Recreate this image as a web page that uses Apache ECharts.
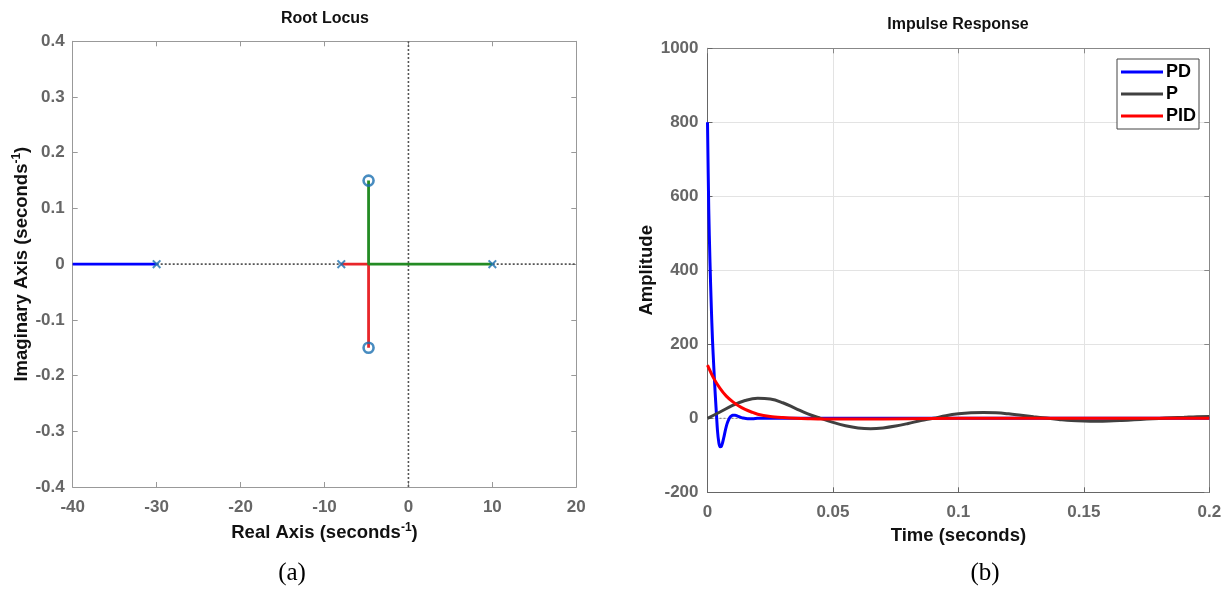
<!DOCTYPE html>
<html>
<head>
<meta charset="utf-8">
<script src="https://cdn.jsdelivr.net/npm/echarts@6/dist/echarts.min.js"></script>
<style>
html,body{margin:0;padding:0;background:#fff;}
#c{width:1231px;height:589px;}
</style>
</head>
<body>
<div id="c"></div>
<script>
// ---- Root locus data ----
const rlPoles = [[-30, 0], [-8, 0], [10, 0]];
const rlZeros = [[-4.75, 0.15], [-4.75, -0.15]];
const rlBranchBlue = [[-40, 0], [-30, 0]];
const rlBranchRed = [[-8, 0], [-4.75, 0], [-4.75, -0.15]];
const rlBranchGreen = [[10, 0], [-4.75, 0], [-4.75, 0.15]];
const rlRealAxisGuide = [[-40, 0], [20, 0]];
const rlImagAxisGuide = [[0, -0.4], [0, 0.4]];

// ---- Impulse response data ----
const tPD = [0, 0.0005, 0.001, 0.0015, 0.002, 0.0025, 0.003, 0.0035, 0.004, 0.0045, 0.005, 0.0055, 0.006, 0.0065, 0.007, 0.0075, 0.008, 0.0085, 0.009, 0.0095, 0.010, 0.011, 0.012, 0.013, 0.014, 0.016, 0.018, 0.020, 0.025, 0.03, 0.05, 0.1, 0.15, 0.2];
const aPD = [800, 565, 420, 305, 210, 140, 75, 18, -35, -65, -77, -76, -66, -52, -36, -22, -11, -3, 3, 6, 8, 8, 6, 3, 1, -1, -1, 0, 0, 0, 0, 0, 0, 0];

const tP = [0, 0.005, 0.01, 0.015, 0.02, 0.025, 0.03, 0.035, 0.04, 0.045, 0.05, 0.055, 0.06, 0.065, 0.07, 0.075, 0.08, 0.085, 0.09, 0.095, 0.1, 0.105, 0.11, 0.115, 0.12, 0.125, 0.13, 0.135, 0.14, 0.145, 0.15, 0.155, 0.16, 0.165, 0.17, 0.175, 0.18, 0.185, 0.19, 0.195, 0.2];
const aP = [0, 17, 35, 48, 54, 52, 42, 27, 12, 0, -11, -20, -26, -28, -26, -21, -14, -6, 0, 7, 12, 15, 16, 15, 12, 8, 4, 0.5, -3, -6, -7.5, -8, -7.5, -6, -4, -2, -0.5, 1.5, 3, 4.5, 5];

const tPID = [0, 0.0025, 0.005, 0.0075, 0.01, 0.0125, 0.015, 0.0175, 0.02, 0.025, 0.03, 0.035, 0.04, 0.05, 0.06, 0.08, 0.1, 0.15, 0.2];
const aPID = [144, 108, 81, 60, 45, 33, 24, 17, 11, 5, 2, 0, -1, -2, -2, -1, 0, 0, 0];

const zeroLine = [[0, 0], [0.2, 0]];

// ---- tick settings ----
const rlXTicks = {min: -40, max: 20, interval: 10};
const rlYTicks = {min: -0.4, max: 0.4, interval: 0.1};
const irXTicks = {min: 0, max: 0.2, interval: 0.05};
const irYTicks = {min: -200, max: 1000, interval: 200};

const zip = (a, b) => a.map((v, i) => [v, b[i]]);
const fmt = v => String(parseFloat(Number(v).toFixed(3)));

const FF = 'Liberation Sans, Arial, sans-serif';
const tickFont = {color: '#666', fontWeight: 'bold', fontSize: 17, fontFamily: FF};
const nameRich = {
  t: {color: '#111', fontWeight: 'bold', fontSize: 18.5, fontFamily: FF, lineHeight: 22},
  s: {color: '#111', fontWeight: 'bold', fontSize: 12, fontFamily: FF, verticalAlign: 'top', lineHeight: 22}
};
const plainName = {color: '#111', fontWeight: 'bold', fontSize: 18.5, fontFamily: FF};

const xMark = 'path://M0,1.6 L1.6,0 L5,3.4 L8.4,0 L10,1.6 L6.6,5 L10,8.4 L8.4,10 L5,6.6 L1.6,10 L0,8.4 L3.4,5 Z';

function boxAxis(gridIndex, pos, ticks, color) {
  return Object.assign({
    type: 'value', gridIndex: gridIndex, position: pos,
    axisLine: {show: true, onZero: false, lineStyle: {color: color, width: 1}},
    axisTick: {show: true, inside: true, length: 5, lineStyle: {color: color}},
    axisLabel: {show: false},
    splitLine: {show: false}
  }, ticks);
}

const chart = echarts.init(document.getElementById('c'), null, {renderer: 'canvas'});
const option = {
  animation: false,
  backgroundColor: '#fff',
  title: [
    {text: 'Root Locus', left: 325, top: 11, textAlign: 'center', padding: 0,
     textStyle: {fontSize: 16, fontWeight: 'bold', color: '#111', fontFamily: FF}},
    {text: 'Impulse Response', left: 958, top: 17, textAlign: 'center', padding: 0,
     textStyle: {fontSize: 16, fontWeight: 'bold', color: '#111', fontFamily: FF}}
  ],
  grid: [
    {left: 72.7, top: 41.3, width: 503.6, height: 445.7, containLabel: false},
    {left: 707.5, top: 48.3, width: 501.8, height: 444, containLabel: false}
  ],
  legend: {
    data: ['PD', 'P', 'PID'],
    orient: 'vertical',
    left: 1117, top: 59,
    padding: [4, 3, 4, 4],
    itemGap: 4,
    itemWidth: 42, itemHeight: 3,
    icon: 'rect',
    backgroundColor: '#fff',
    borderColor: '#444', borderWidth: 1, borderRadius: 0,
    textStyle: {fontSize: 18, fontWeight: 'bold', color: '#000', fontFamily: FF, padding: [0, 0, 0, -2]}
  },
  xAxis: [
    Object.assign({
      type: 'value', gridIndex: 0, position: 'bottom',
      name: '{t|Real Axis (seconds}{s|-1}{t|)}', nameLocation: 'middle', nameGap: 35,
      nameTextStyle: {rich: nameRich},
      axisLine: {show: true, onZero: false, lineStyle: {color: '#999'}},
      axisTick: {show: true, inside: true, length: 5, lineStyle: {color: '#999'}},
      axisLabel: Object.assign({margin: 12, formatter: fmt}, tickFont),
      splitLine: {show: false}
    }, rlXTicks),
    boxAxis(0, 'top', rlXTicks, '#999'),
    Object.assign({
      type: 'value', gridIndex: 1, position: 'bottom',
      name: 'Time (seconds)', nameLocation: 'middle', nameGap: 34,
      nameTextStyle: plainName,
      axisLine: {show: true, onZero: false, lineStyle: {color: '#666'}},
      axisTick: {show: true, inside: true, length: 5, lineStyle: {color: '#666'}},
      axisLabel: Object.assign({margin: 12, formatter: fmt}, tickFont),
      splitLine: {show: true, lineStyle: {color: '#e3e3e3', width: 1}}
    }, irXTicks),
    boxAxis(1, 'top', irXTicks, '#888')
  ],
  yAxis: [
    Object.assign({
      type: 'value', gridIndex: 0, position: 'left',
      name: '{t|Imaginary Axis (seconds}{s|-1}{t|)}', nameLocation: 'middle', nameGap: 35, nameRotate: 90,
      nameTextStyle: {rich: nameRich},
      axisLine: {show: true, onZero: false, lineStyle: {color: '#999'}},
      axisTick: {show: true, inside: true, length: 5, lineStyle: {color: '#999'}},
      axisLabel: Object.assign({margin: 8, formatter: fmt}, tickFont),
      splitLine: {show: false}
    }, rlYTicks),
    boxAxis(0, 'right', rlYTicks, '#999'),
    Object.assign({
      type: 'value', gridIndex: 1, position: 'left',
      name: 'Amplitude', nameLocation: 'middle', nameGap: 50, nameRotate: 90,
      nameTextStyle: plainName,
      axisLine: {show: true, onZero: false, lineStyle: {color: '#666'}},
      axisTick: {show: true, inside: true, length: 5, lineStyle: {color: '#666'}},
      axisLabel: Object.assign({margin: 9, formatter: fmt}, tickFont),
      splitLine: {show: true, lineStyle: {color: '#e3e3e3', width: 1}}
    }, irYTicks),
    boxAxis(1, 'right', irYTicks, '#888')
  ],
  graphic: [
    {type: 'text', x: 292, y: 573, style: {text: '(a)', font: '25px "Liberation Serif", "Times New Roman", serif', fill: '#000', align: 'center', verticalAlign: 'middle'}},
    {type: 'text', x: 985, y: 573, style: {text: '(b)', font: '25px "Liberation Serif", "Times New Roman", serif', fill: '#000', align: 'center', verticalAlign: 'middle'}}
  ],
  series: [
    {name: 'realGuide', type: 'line', xAxisIndex: 0, yAxisIndex: 0, data: rlRealAxisGuide, showSymbol: false, silent: true,
     lineStyle: {color: '#555', width: 1.6, type: [2, 2]}, z: 1},
    {name: 'imagGuide', type: 'line', xAxisIndex: 0, yAxisIndex: 0, data: rlImagAxisGuide, showSymbol: false, silent: true,
     lineStyle: {color: '#555', width: 1.6, type: [2, 2]}, z: 1},
    {name: 'branch1', type: 'line', xAxisIndex: 0, yAxisIndex: 0, data: rlBranchBlue, showSymbol: false,
     lineStyle: {color: '#0000ff', width: 2.8}, z: 2},
    {name: 'branch2', type: 'line', xAxisIndex: 0, yAxisIndex: 0, data: rlBranchRed, showSymbol: false,
     lineStyle: {color: '#e8262a', width: 2.8}, z: 2},
    {name: 'branch3', type: 'line', xAxisIndex: 0, yAxisIndex: 0, data: rlBranchGreen, showSymbol: false,
     lineStyle: {color: '#238b23', width: 2.8}, z: 2},
    {name: 'poles', type: 'scatter', xAxisIndex: 0, yAxisIndex: 0, data: rlPoles, symbol: xMark, symbolSize: 9,
     itemStyle: {color: '#1a6fb0'}, z: 3},
    {name: 'zeros', type: 'scatter', xAxisIndex: 0, yAxisIndex: 0, data: rlZeros, symbol: 'circle', symbolSize: 10,
     itemStyle: {color: 'rgba(0,0,0,0)', borderColor: '#1a6fb0', borderWidth: 2.6}, z: 3},

    {name: 'zero', type: 'line', xAxisIndex: 2, yAxisIndex: 2, data: zeroLine, showSymbol: false, silent: true,
     lineStyle: {color: '#777', width: 1, type: [2, 2]}, z: 1},
    {name: 'PD', type: 'line', xAxisIndex: 2, yAxisIndex: 2, data: zip(tPD, aPD), showSymbol: false, smooth: 0.3,
     lineStyle: {color: '#0000ff', width: 3}, itemStyle: {color: '#0000ff'}, z: 2},
    {name: 'P', type: 'line', xAxisIndex: 2, yAxisIndex: 2, data: zip(tP, aP), showSymbol: false, smooth: 0.4,
     lineStyle: {color: '#404040', width: 3}, itemStyle: {color: '#404040'}, z: 3},
    {name: 'PID', type: 'line', xAxisIndex: 2, yAxisIndex: 2, data: zip(tPID, aPID), showSymbol: false, smooth: 0.3,
     lineStyle: {color: '#ff0000', width: 3}, itemStyle: {color: '#ff0000'}, z: 4}
  ]
};
chart.setOption(option);
</script>
</body>
</html>
